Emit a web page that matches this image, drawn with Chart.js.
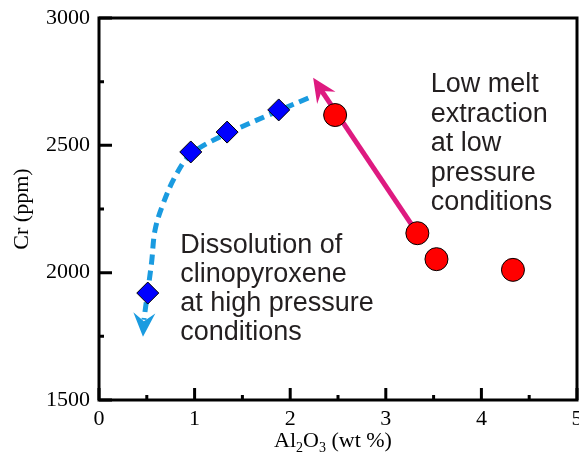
<!DOCTYPE html>
<html>
<head>
<meta charset="utf-8">
<script src="https://cdn.jsdelivr.net/npm/chart.js@4.4.0/dist/chart.umd.min.js"></script>
<style>
  html, body { margin: 0; padding: 0; background: #fff; }
  #wrap { width: 579px; height: 459px; }
</style>
</head>
<body>
<div id="wrap"><canvas id="myChart"></canvas></div>
<script>
// clinopyroxene samples (blue diamonds)
const cpxAl = [0.51, 0.96, 1.34, 1.88];
const cpxCr = [1920, 2474, 2552, 2639];
// low-pressure samples (red circles)
const meltAl = [2.47, 3.33, 3.53, 4.33];
const meltCr = [2619, 2155, 2053, 2011];
// dashed high-pressure trend
const trendAl = [2.19, 1.88, 1.35, 0.97, 0.80, 0.66, 0.585, 0.55, 0.50, 0.47];
const trendCr = [2686, 2636, 2548, 2468, 2380, 2260, 2165, 2040, 1900, 1815];
const trendTip = [0.46, 1748];
// pink low-pressure arrow
const arrowAl = [3.33, 2.31];
const arrowCr = [2155, 2725];
const arrowTip = [2.24, 2765];

const xTicks = [0, 1, 2, 3, 4, 5];
const yTicks = [1500, 2000, 2500, 3000];

const lowText = ['Low melt', 'extraction', 'at low', 'pressure', 'conditions'];
const highText = ['Dissolution of', 'clinopyroxene', 'at high pressure', 'conditions'];

const serif = '"Liberation Serif", "Times New Roman", serif';
const sans = '"Liberation Sans", Arial, sans-serif';

const pts = (xs, ys) => xs.map((v, i) => ({x: v, y: ys[i]}));

function arrowHead(ctx, x, y, from, tip, color) {
    const bx = x.getPixelForValue(from[0]), by = y.getPixelForValue(from[1]);
    const tx = x.getPixelForValue(tip[0]), ty = y.getPixelForValue(tip[1]);
    const len = Math.hypot(tx - bx, ty - by);
    const dx = (tx - bx) / len, dy = (ty - by) / len;
    const nx = -dy, ny = dx;
    const L = 24, W = 22;
    ctx.fillStyle = color;
    ctx.beginPath();
    ctx.moveTo(tx, ty);
    ctx.lineTo(tx - L * dx + W / 2 * nx, ty - L * dy + W / 2 * ny);
    ctx.lineTo(tx - 0.65 * L * dx, ty - 0.65 * L * dy);
    ctx.lineTo(tx - L * dx - W / 2 * nx, ty - L * dy - W / 2 * ny);
    ctx.closePath();
    ctx.fill();
}

const frame = {
    id: 'frame',
    afterDatasetsDraw(chart) {
        const {ctx, scales: {x, y}} = chart;
        ctx.save();
        arrowHead(ctx, x, y, [trendAl[trendAl.length - 1], trendCr[trendCr.length - 1]], trendTip, '#1a9be0');
        arrowHead(ctx, x, y, [arrowAl[1], arrowCr[1]], arrowTip, '#de1a80');

        // annotation text
        ctx.fillStyle = '#231f20';
        ctx.font = '27px ' + sans;
        ctx.textAlign = 'left';
        ctx.textBaseline = 'alphabetic';
        lowText.forEach((t, i) => ctx.fillText(t, x.getPixelForValue(3.47), y.getPixelForValue(2709) + i * 29.5));
        highText.forEach((t, i) => ctx.fillText(t, x.getPixelForValue(0.85), y.getPixelForValue(2077) + i * 29));
        ctx.restore();
    },
    afterDraw(chart) {
        const {ctx, chartArea: a, scales: {x, y}} = chart;
        ctx.save();
        ctx.strokeStyle = '#000';
        ctx.lineWidth = 3;
        ctx.strokeRect(a.left, a.top, a.right - a.left, a.bottom - a.top);

        // inward ticks, major + minor
        ctx.beginPath();
        xTicks.forEach((v, i) => {
            const px = x.getPixelForValue(v);
            ctx.moveTo(px, a.bottom); ctx.lineTo(px, a.bottom - 12);
            if (i < xTicks.length - 1) {
                const m = x.getPixelForValue((v + xTicks[i + 1]) / 2);
                ctx.moveTo(m, a.bottom); ctx.lineTo(m, a.bottom - 5);
            }
        });
        yTicks.forEach((v, i) => {
            const py = y.getPixelForValue(v);
            ctx.moveTo(a.left, py); ctx.lineTo(a.left + 13, py);
            if (i < yTicks.length - 1) {
                const m = y.getPixelForValue((v + yTicks[i + 1]) / 2);
                ctx.moveTo(a.left, m); ctx.lineTo(a.left + 5, m);
            }
        });
        ctx.stroke();

        // x axis title with subscripts
        const parts = [['Al', 22, 0], ['2', 14, 5], ['O', 22, 0], ['3', 14, 5], [' (wt %)', 22, 0]];
        let w = 0;
        parts.forEach(p => { ctx.font = p[1] + 'px ' + serif; w += ctx.measureText(p[0]).width; });
        let cx = 333 - w / 2;
        ctx.fillStyle = '#000';
        ctx.textAlign = 'left';
        ctx.textBaseline = 'alphabetic';
        parts.forEach(p => {
            ctx.font = p[1] + 'px ' + serif;
            ctx.fillText(p[0], cx, 447 + p[2]);
            cx += ctx.measureText(p[0]).width;
        });
        ctx.restore();
    }
};

const ctx = document.getElementById('myChart');

new Chart(ctx, {
    type: 'scatter',
    data: {
        datasets: [{
            label: 'melt',
            data: pts(meltAl, meltCr),
            pointStyle: 'circle',
            pointRadius: 11.5,
            backgroundColor: '#ff0000',
            borderColor: '#000',
            borderWidth: 1,
            order: 0
        }, {
            label: 'cpx',
            data: pts(cpxAl, cpxCr),
            pointStyle: 'rectRot',
            pointRadius: 11,
            backgroundColor: '#0000ff',
            borderColor: '#000',
            borderWidth: 1,
            order: 1
        }, {
            label: 'low pressure',
            data: pts(arrowAl, arrowCr),
            showLine: true,
            pointRadius: 0,
            borderColor: '#de1a80',
            borderWidth: 5,
            order: 2
        }, {
            label: 'high pressure',
            data: pts(trendAl, trendCr),
            showLine: true,
            tension: 0.35,
            pointRadius: 0,
            borderColor: '#1a9be0',
            borderWidth: 5,
            borderDash: [10, 6],
            order: 3
        }]
    },
    options: {
        responsive: true,
        maintainAspectRatio: false,
        animation: false,
        layout: {
            autoPadding: false,
            padding: {top: 18, right: 2, left: 0, bottom: 0}
        },
        scales: {
            x: {
                type: 'linear',
                min: 0,
                max: 5,
                afterFit(s) { s.height = 59; s.paddingLeft = 0; s.paddingRight = 0; },
                afterBuildTicks(s) { s.ticks = xTicks.map(v => ({value: v})); },
                grid: {display: false, drawTicks: false},
                border: {display: false},
                ticks: {
                    color: '#000',
                    padding: 6,
                    font: {family: serif, size: 22},
                    callback: v => String(v)
                }
            },
            y: {
                min: 1500,
                max: 3000,
                afterFit(s) { s.width = 99; s.paddingTop = 0; s.paddingBottom = 0; },
                afterBuildTicks(s) { s.ticks = yTicks.map(v => ({value: v})); },
                grid: {display: false, drawTicks: false},
                border: {display: false},
                title: {
                    display: true,
                    text: 'Cr (ppm)',
                    color: '#000',
                    padding: {top: 9, bottom: 0},
                    font: {family: serif, size: 22}
                },
                ticks: {
                    color: '#000',
                    padding: 9,
                    font: {family: serif, size: 22},
                    callback: v => String(v)
                }
            }
        },
        plugins: {
            legend: {display: false},
            tooltip: {enabled: false}
        }
    },
    plugins: [frame]
});
</script>
</body>
</html>
